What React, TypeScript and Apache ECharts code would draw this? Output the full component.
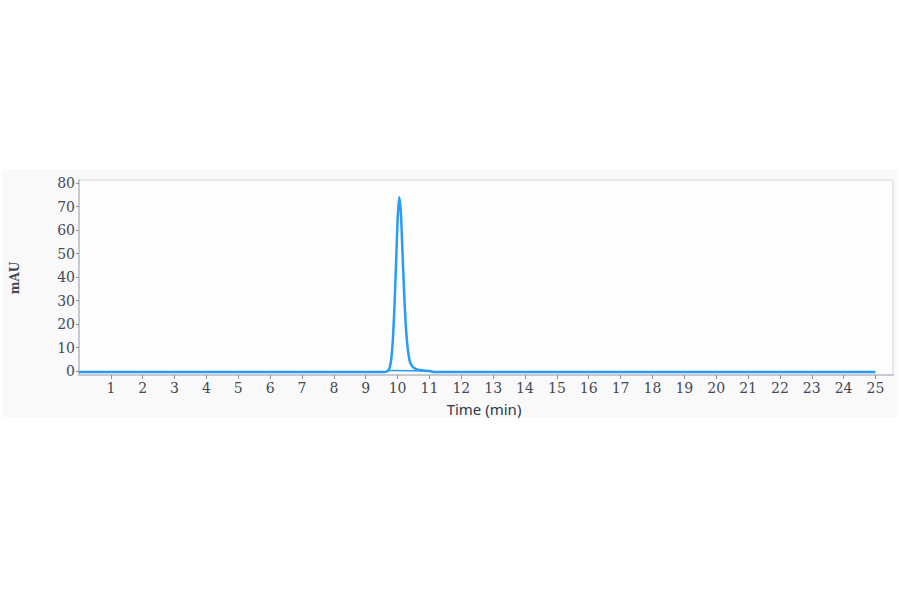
import React, { useEffect, useRef } from "react";
import * as echarts from "echarts";

// retention time (min) and absorbance (mAU)
const times = [
  0, 9.6, 9.7, 9.75, 9.8, 9.85, 9.9, 9.95, 10.0, 10.05, 10.1, 10.15, 10.2,
  10.25, 10.3, 10.35, 10.4, 10.5, 10.6, 10.7, 10.8, 11.0, 11.1, 25,
];
const mAU = [
  -0.3, -0.3, 0.2, 1.5, 5, 13, 27, 45, 64, 74, 68, 52, 35, 21, 12, 6.5, 3.5,
  1.5, 0.8, 0.5, 0.3, 0.1, -0.3, -0.3,
];
// integration baseline under the peak
const baseTimes = [9.72, 11.1];
const baseValues = [0.3, 0.1];

const xTicks = [
  1, 2, 3, 4, 5, 6, 7, 8, 9, 10, 11, 12, 13, 14, 15, 16, 17, 18, 19, 20, 21,
  22, 23, 24, 25,
];
const yTicks = [0, 10, 20, 30, 40, 50, 60, 70, 80];

const labelColor = "#434958";
const axisColor = "#c5c9d2";
const lineColor = "#2b9bf4";

export default function App() {
  const ref = useRef<HTMLDivElement>(null);

  useEffect(() => {
    if (!ref.current) return;
    const chart = echarts.init(ref.current, undefined, { renderer: "svg" });
    const option: echarts.EChartsOption = {
      animation: false,
      backgroundColor: "#ffffff",
      graphic: [
        {
          type: "rect",
          z: -10,
          shape: { x: 2, y: 169, width: 895, height: 248 },
          style: { fill: "#f9f9fa" },
        },
        {
          type: "text",
          x: 15,
          y: 278,
          rotation: Math.PI / 2,
          style: {
            text: "mAU",
            fill: labelColor,
            font: "bold 12px 'DejaVu Serif'",
            align: "center",
            verticalAlign: "middle",
          },
        },
        {
          type: "text",
          x: 484,
          y: 409,
          style: {
            text: "Time (min)",
            fill: "#2e3a4a",
            font: "15px 'Noto Sans'",
            align: "center",
            verticalAlign: "middle",
          },
        },
      ],
      grid: {
        left: 79,
        top: 180,
        width: 814,
        height: 195,
        show: true,
        backgroundColor: "#fdfdfe",
        borderColor: "#d4d7dd",
        borderWidth: 1,
      },
      xAxis: {
        type: "value",
        min: 0,
        max: 25.55,
        axisLine: { onZero: false, lineStyle: { color: axisColor, width: 2 } },
        axisTick: {
          customValues: xTicks,
          length: 4,
          lineStyle: { color: "#8a909c" },
        },
        axisLabel: {
          customValues: xTicks,
          margin: 6,
          color: labelColor,
          fontFamily: "DejaVu Serif",
          fontSize: 14,
        },
        splitLine: { show: false },
      },
      yAxis: {
        type: "value",
        min: -1.6,
        max: 81.3,
        axisLine: { show: true, lineStyle: { color: axisColor, width: 2 } },
        axisTick: {
          show: true,
          customValues: yTicks,
          length: 3,
          lineStyle: { color: "#8a909c" },
        },
        axisLabel: {
          customValues: yTicks,
          margin: 4,
          color: labelColor,
          fontFamily: "DejaVu Serif",
          fontSize: 14,
        },
        splitLine: { show: false },
      },
      series: [
        {
          type: "line",
          data: times.map((t, i) => [t, mAU[i]]),
          showSymbol: false,
          smooth: 0.3,
          lineStyle: { color: lineColor, width: 2.5 },
        },
        {
          type: "line",
          data: baseTimes.map((t, i) => [t, baseValues[i]]),
          showSymbol: false,
          lineStyle: { color: lineColor, width: 1.5 },
        },
      ],
    };
    chart.setOption(option);
    return () => chart.dispose();
  }, []);

  return (
    <div
      ref={ref}
      style={{ position: "absolute", left: 0, top: 0, width: 900, height: 594 }}
    />
  );
}
